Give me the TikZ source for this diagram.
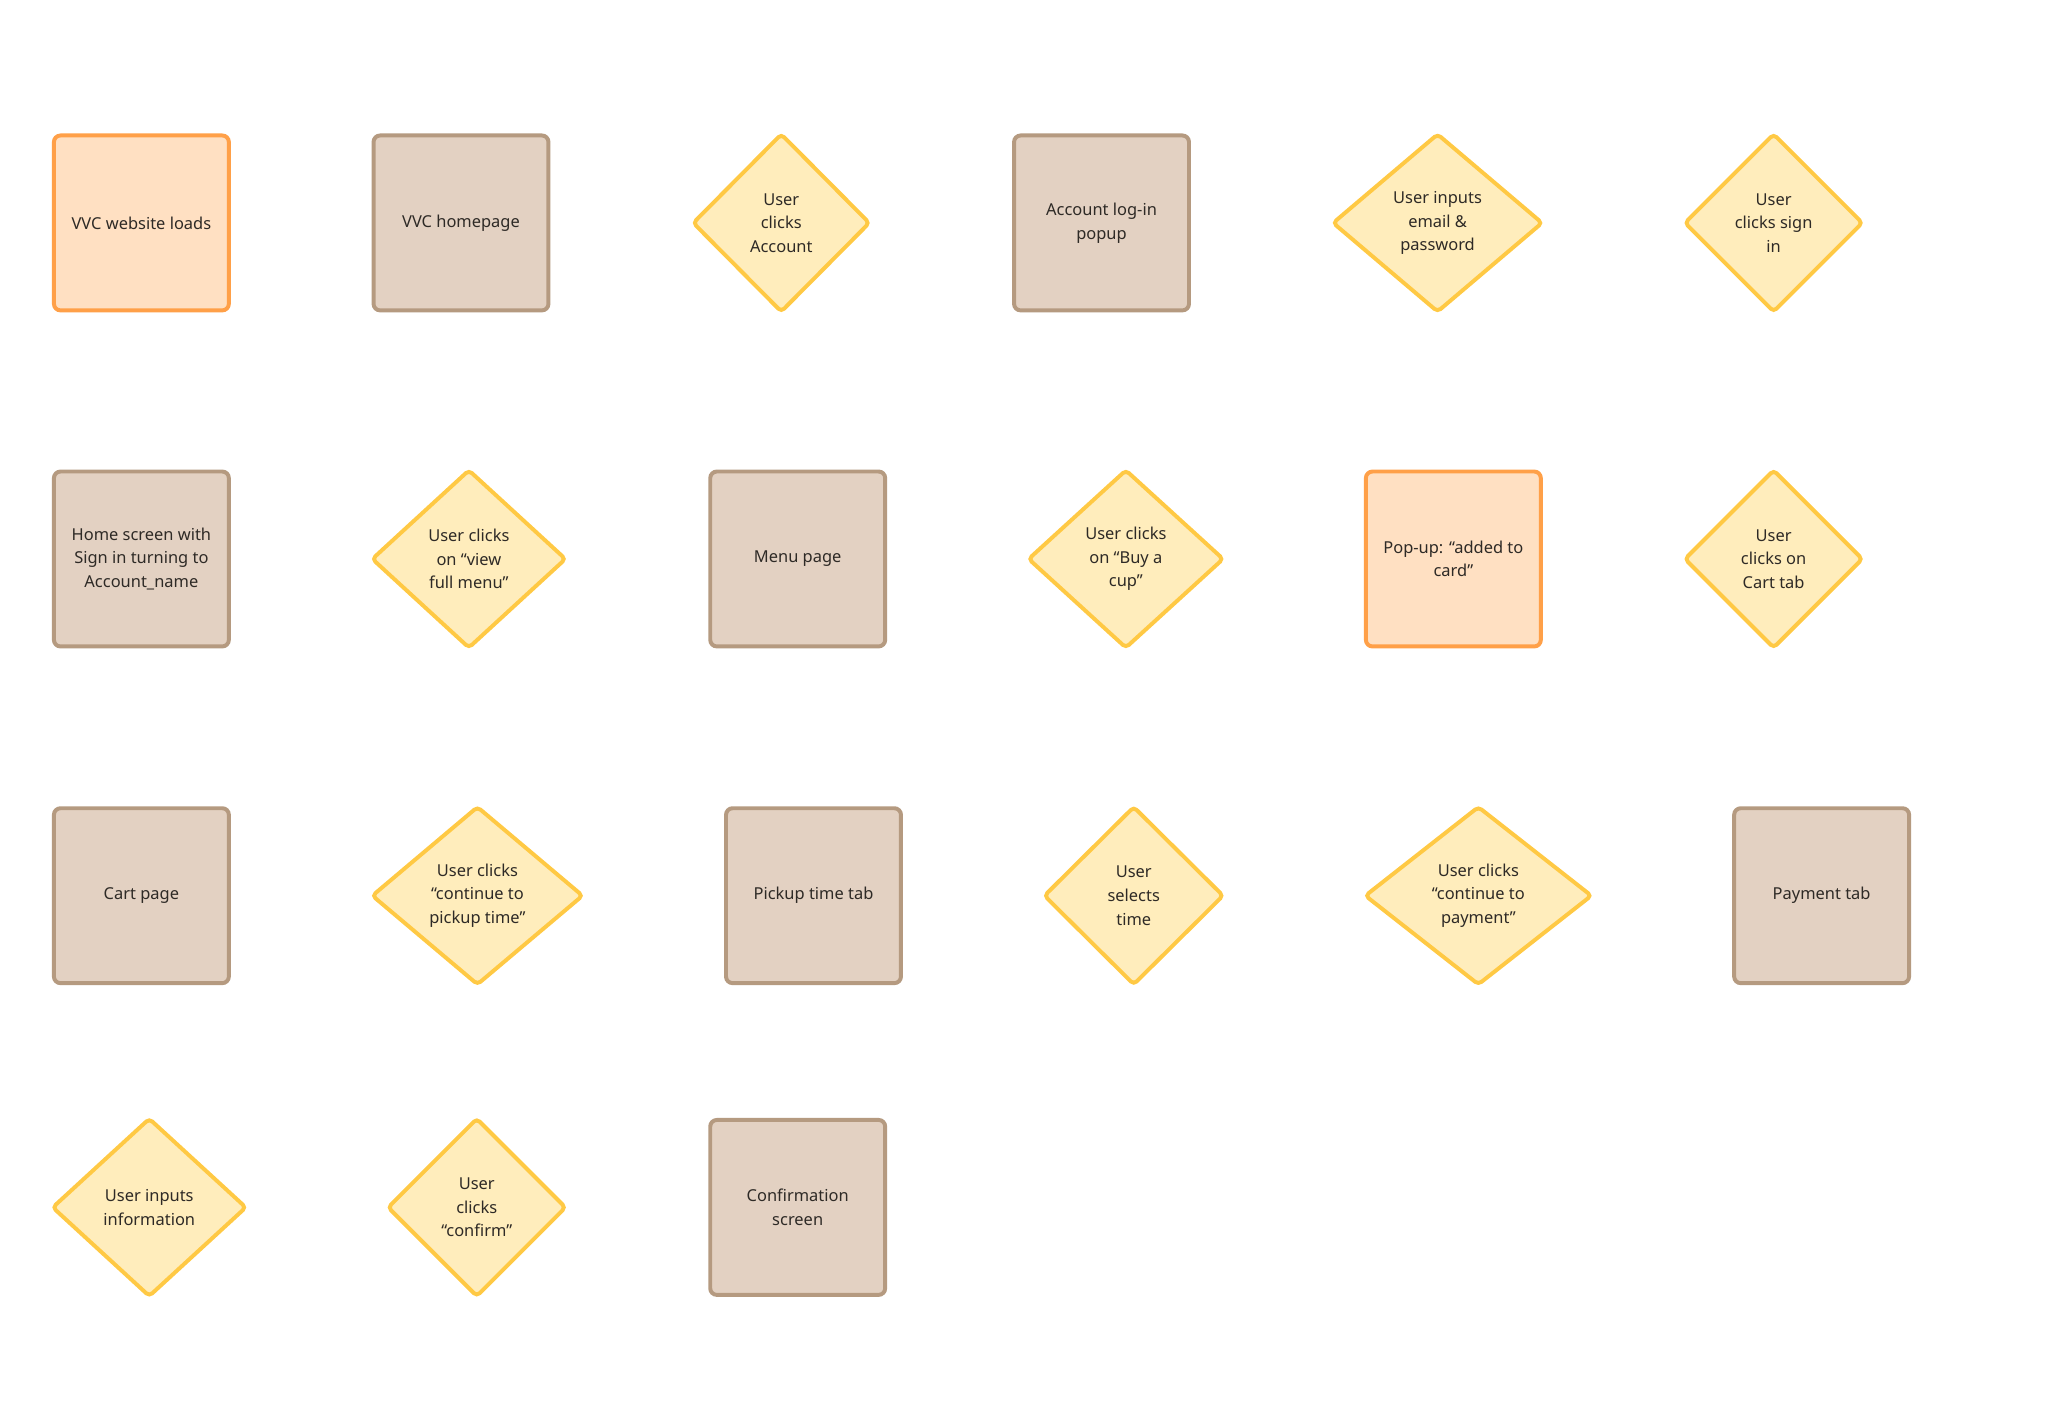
\documentclass[tikz,border=0pt]{standalone}
\usepackage{fontspec}
\setmainfont{Noto Sans}
\usetikzlibrary{shapes.geometric}
\definecolor{orfill}{HTML}{FFE0C2}
\definecolor{ordraw}{HTML}{FFA048}
\definecolor{brfill}{HTML}{E3D1C2}
\definecolor{brdraw}{HTML}{B59A80}
\definecolor{dmfill}{HTML}{FFEDBC}
\definecolor{dmdraw}{HTML}{FFC944}
\definecolor{txt}{HTML}{2E2A26}
\tikzset{
  base/.style={line width=3pt, rounded corners=5pt, inner sep=0pt, align=center,
    text=txt, font=\fontsize{12.5}{18}\selectfont},
  startbox/.style={base, rectangle, draw=ordraw, fill=orfill, minimum width=133pt, minimum height=133pt},
  pagebox/.style={base, rectangle, draw=brdraw, fill=brfill, minimum width=133pt, minimum height=133pt},
  choice/.style={base, diamond, draw=dmdraw, fill=dmfill, rounded corners=3pt, minimum height=136pt},
}
\begin{document}
\begin{tikzpicture}[x=1pt,y=-1pt]
\useasboundingbox[fill=white] (0,0) rectangle (1567,1076);
% Row 1
\node[startbox] (a1) at (107.5,169.5) {VVC website loads};
\node[pagebox] (a2) at (350.5,169.5) {VVC homepage};
\node[choice, minimum width=135pt] (a3) at (594,169.5) {User\\clicks\\Account};
\node[pagebox] (a4) at (837.5,169.5) {Account log-in\\popup};
\node[choice, minimum width=160pt] (a5) at (1093,169.5) {User inputs\\email \&\\password};
\node[choice, minimum width=136pt] (a6) at (1348.5,169.5) {User\\clicks sign\\in};
% Row 2
\node[pagebox] (b1) at (107.5,425) {Home screen with\\Sign in turning to\\Account\_name};
\node[choice, minimum width=148pt] (b2) at (356.5,425) {User clicks\\on “view\\full menu”};
\node[pagebox] (b3) at (606.5,425) {Menu page};
\node[choice, minimum width=149pt] (b4) at (856,425) {User clicks\\on “Buy a\\cup”};
\node[startbox] (b5) at (1105,425) {Pop-up: “added to\\card”};
\node[choice, minimum width=136pt] (b6) at (1348.5,425) {User\\clicks on\\Cart tab};
% Row 3
\node[pagebox] (c1) at (107.5,681) {Cart page};
\node[choice, minimum width=161pt] (c2) at (363,681) {User clicks\\“continue to\\pickup time”};
\node[pagebox] (c3) at (618.5,681) {Pickup time tab};
\node[choice, minimum width=137pt] (c4) at (862,681) {User\\selects\\time};
\node[choice, minimum width=173pt] (c5) at (1124,681) {User clicks\\“continue to\\payment”};
\node[pagebox] (c6) at (1385,681) {Payment tab};
% Row 4
\node[choice, minimum width=148pt] (d1) at (113.5,918) {User inputs\\information};
\node[choice, minimum width=136pt] (d2) at (362.5,918) {User\\clicks\\“confirm”};
\node[pagebox] (d3) at (606.5,918) {Confirmation\\screen};
\end{tikzpicture}
\end{document}
